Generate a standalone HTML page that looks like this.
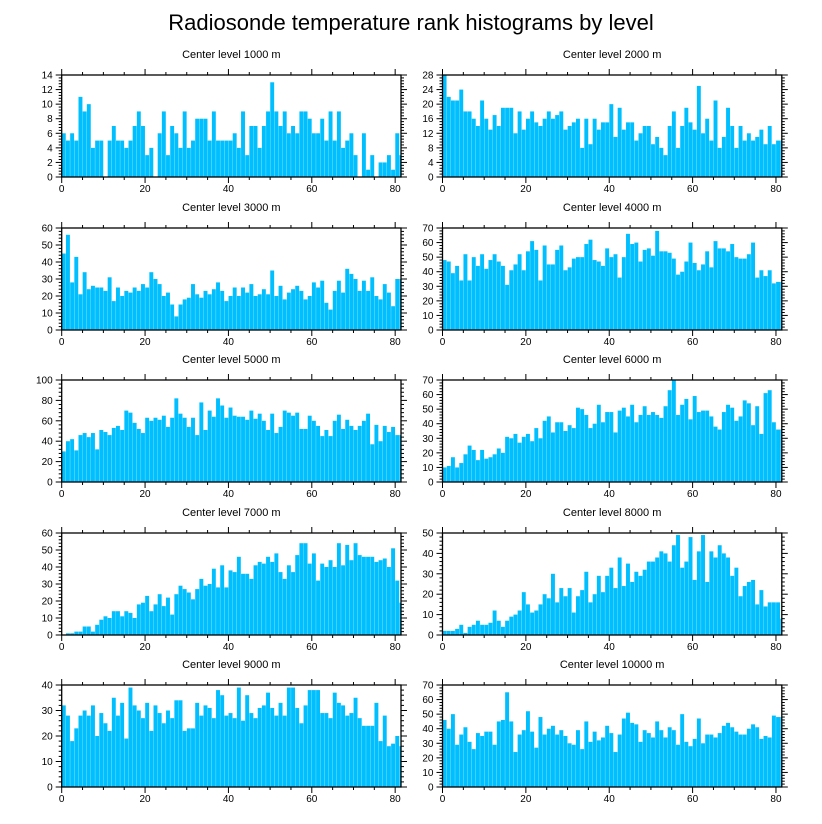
<!DOCTYPE html>
<html><head><meta charset="utf-8"><style>
html,body{margin:0;padding:0;background:#fff;}
svg{display:block;font-family:"Liberation Sans",sans-serif;}
</style></head><body>
<svg id="chart" width="822" height="824" viewBox="0 0 822 824">
<text x="411" y="30" text-anchor="middle" font-size="22">Radiosonde temperature rank histograms by level</text>
</svg>
<script>
const panelTitles = ["Center level 1000 m","Center level 2000 m","Center level 3000 m","Center level 4000 m","Center level 5000 m","Center level 6000 m","Center level 7000 m","Center level 8000 m","Center level 9000 m","Center level 10000 m"];
const yMax = [14,28,60,70,100,70,60,50,40,70];
const yStep = [2,4,10,10,20,10,10,10,10,10];
const xTicks = [0,20,40,60,80];
const counts1000 = [6,5,6,5,11,9,10,4,5,5,0,5,7,5,5,4,5,7,9,7,3,4,0,6,9,3,7,6,4,9,4,5,8,8,8,5,9,5,5,5,5,6,4,9,3,7,7,4,7,9,13,9,7,9,6,7,6,9,9,8,6,6,8,5,9,5,9,4,5,6,3,0,6,1,3,0,2,2,3,1,6,3];
const counts2000 = [28,22,21,21,24,18,18,16,14,21,16,13,17,14,19,19,19,12,18,13,16,18,15,14,16,18,16,17,18,13,14,15,16,8,16,9,16,13,15,15,20,11,19,13,15,15,10,12,14,14,9,11,8,6,14,18,8,14,19,15,13,25,12,16,10,21,8,11,19,14,8,14,10,12,10,11,13,9,14,9,10,10];
const counts3000 = [45,56,28,43,21,34,24,26,25,25,23,31,17,25,20,23,22,25,23,27,25,34,30,27,20,22,15,8,15,18,19,27,21,19,23,21,24,28,23,17,20,25,20,25,22,27,20,21,24,21,35,20,26,18,22,24,26,23,18,20,28,25,29,16,12,23,29,22,36,33,30,23,29,23,31,20,18,27,22,14,30,30];
const counts4000 = [48,47,39,44,34,52,34,50,44,52,42,48,52,47,44,31,41,45,52,41,54,61,55,34,58,45,45,55,58,41,43,49,50,50,59,62,48,47,44,56,50,52,36,50,66,59,60,47,55,56,51,68,54,54,53,49,38,40,47,60,46,41,45,54,43,61,56,56,54,59,50,49,49,52,60,36,41,37,41,32,33,33];
const counts5000 = [30,40,42,31,46,48,44,48,32,51,49,46,53,55,51,70,68,58,52,48,63,60,63,61,65,54,63,82,67,63,54,63,46,78,51,70,64,82,75,63,73,65,64,64,61,70,62,67,60,51,67,48,54,70,68,65,68,52,52,65,60,55,45,51,45,60,66,52,61,55,51,55,60,67,37,56,40,55,49,54,46,46];
const counts6000 = [10,11,17,10,13,19,25,22,15,22,16,17,19,23,20,31,30,33,27,31,33,28,37,30,42,45,34,41,41,35,39,37,51,50,46,37,40,53,41,48,48,34,49,51,45,53,41,46,52,46,48,46,44,52,63,70,46,53,57,43,59,48,49,49,45,38,36,48,53,51,42,45,56,54,39,52,33,61,63,41,36,36];
const counts7000 = [0,1,1,2,2,5,5,2,6,9,11,10,14,14,11,14,13,10,18,19,23,14,18,24,17,22,12,24,29,27,25,21,27,33,29,30,39,28,41,28,38,37,46,36,36,33,41,43,42,46,43,48,37,33,41,37,47,54,54,42,48,32,42,40,44,40,54,41,53,44,54,47,46,46,46,43,44,45,40,51,32,19];
const counts8000 = [2,2,2,3,5,1,4,5,7,5,5,6,12,7,4,7,9,10,12,21,15,11,12,15,20,18,30,16,23,19,23,11,19,22,31,16,20,29,21,29,33,23,38,24,35,26,31,29,32,36,36,38,41,40,36,44,49,33,36,48,27,41,49,26,41,38,44,40,38,29,33,19,24,26,27,15,22,14,16,16,16,8];
const counts9000 = [32,28,18,23,28,30,28,32,20,29,25,22,35,28,33,19,39,32,30,27,33,22,32,29,25,30,27,34,34,22,23,23,33,28,32,31,27,38,36,28,29,27,39,26,36,29,27,31,32,37,31,28,33,28,39,39,31,25,32,38,38,38,29,29,27,37,33,32,28,29,35,27,24,24,24,33,18,28,16,17,20,16];
const counts10000 = [46,40,50,29,36,41,31,26,37,35,38,38,29,45,46,65,45,24,36,39,52,38,27,48,36,40,42,36,39,35,30,29,39,26,45,31,38,32,34,42,37,24,36,47,51,44,43,31,39,37,34,45,39,34,41,39,29,50,31,28,33,47,30,36,36,34,37,42,44,41,38,36,36,40,43,41,33,35,34,49,48,48];
const allCounts = [counts1000,counts2000,counts3000,counts4000,counts5000,counts6000,counts7000,counts8000,counts9000,counts10000];

const NS = "http://www.w3.org/2000/svg";
const svg = document.getElementById("chart");
function mk(tag, attrs, parent){
  const e = document.createElementNS(NS, tag);
  for (const k in attrs) e.setAttribute(k, attrs[k]);
  parent.appendChild(e);
  return e;
}
const XMAX = 81.4;
const colLeft = [61.7, 442.5];
const plotW = 339.3;
const rowTop = [75, 228, 380, 533, 685];
const plotH = 102;

for (let p = 0; p < 10; p++) {
  const col = p % 2, row = Math.floor(p / 2);
  const L = colLeft[col], T = rowTop[row], B = T + plotH, R = L + plotW;
  const xs = v => L + v / XMAX * plotW;
  const ys = v => B - v / yMax[p] * plotH;
  const g = mk("g", {}, svg);
  
  
  const t = mk("text", {x: (L + R) / 2, y: T - 17, "text-anchor": "middle", "font-size": "11"}, g);
  
  
  t.textContent = panelTitles[p];
  const clipId = "clip" + p;
  const cp = mk("clipPath", {id: clipId}, g);
  mk("rect", {x: L, y: T, width: plotW, height: plotH}, cp);
  const bars = mk("g", {"clip-path": "url(#" + clipId + ")"}, g);
  allCounts[p].forEach((v, i) => {
    const r = mk("rect", {x: xs(i + 0.03), y: ys(v), width: xs(0.94) - L, height: B - ys(v), fill: "#00bfff"}, bars);
    
    
  });
  const fr = mk("rect", {x: L, y: T, width: plotW, height: plotH, fill: "none", stroke: "#000", "stroke-width": "1.3"}, g);
  
  
  for (let v = 0; v <= 81; v += 5) {
    const major = v % 20 === 0;
    const len = major ? 6 : 3;
    mk("line", {x1: xs(v), x2: xs(v), y1: B, y2: B + len, stroke: "#000", "stroke-width": 1}, g);
    mk("line", {x1: xs(v), x2: xs(v), y1: T, y2: T - len, stroke: "#000", "stroke-width": 1}, g);
  }
  xTicks.forEach(v => {
    const tl = mk("text", {x: xs(v), y: B + 15, "text-anchor": "middle", "font-size": "10"}, g);
    
    
    tl.textContent = v;
  });
  const minor = yStep[p] / 5;
  for (let k = 0; k * minor <= yMax[p] + 1e-9; k++) {
    const v = k * minor;
    const major = k % 5 === 0;
    const len = major ? 6 : 3;
    mk("line", {x1: L, x2: L - len, y1: ys(v), y2: ys(v), stroke: "#000", "stroke-width": 1}, g);
    mk("line", {x1: R, x2: R + len, y1: ys(v), y2: ys(v), stroke: "#000", "stroke-width": 1}, g);
  }
  for (let v = 0; v <= yMax[p] + 1e-9; v += yStep[p]) {
    const tl = mk("text", {x: L - 9, y: ys(v) + 3.5, "text-anchor": "end", "font-size": "10"}, g);
    
    
    tl.textContent = v;
  }
}
</script>
</body></html>
